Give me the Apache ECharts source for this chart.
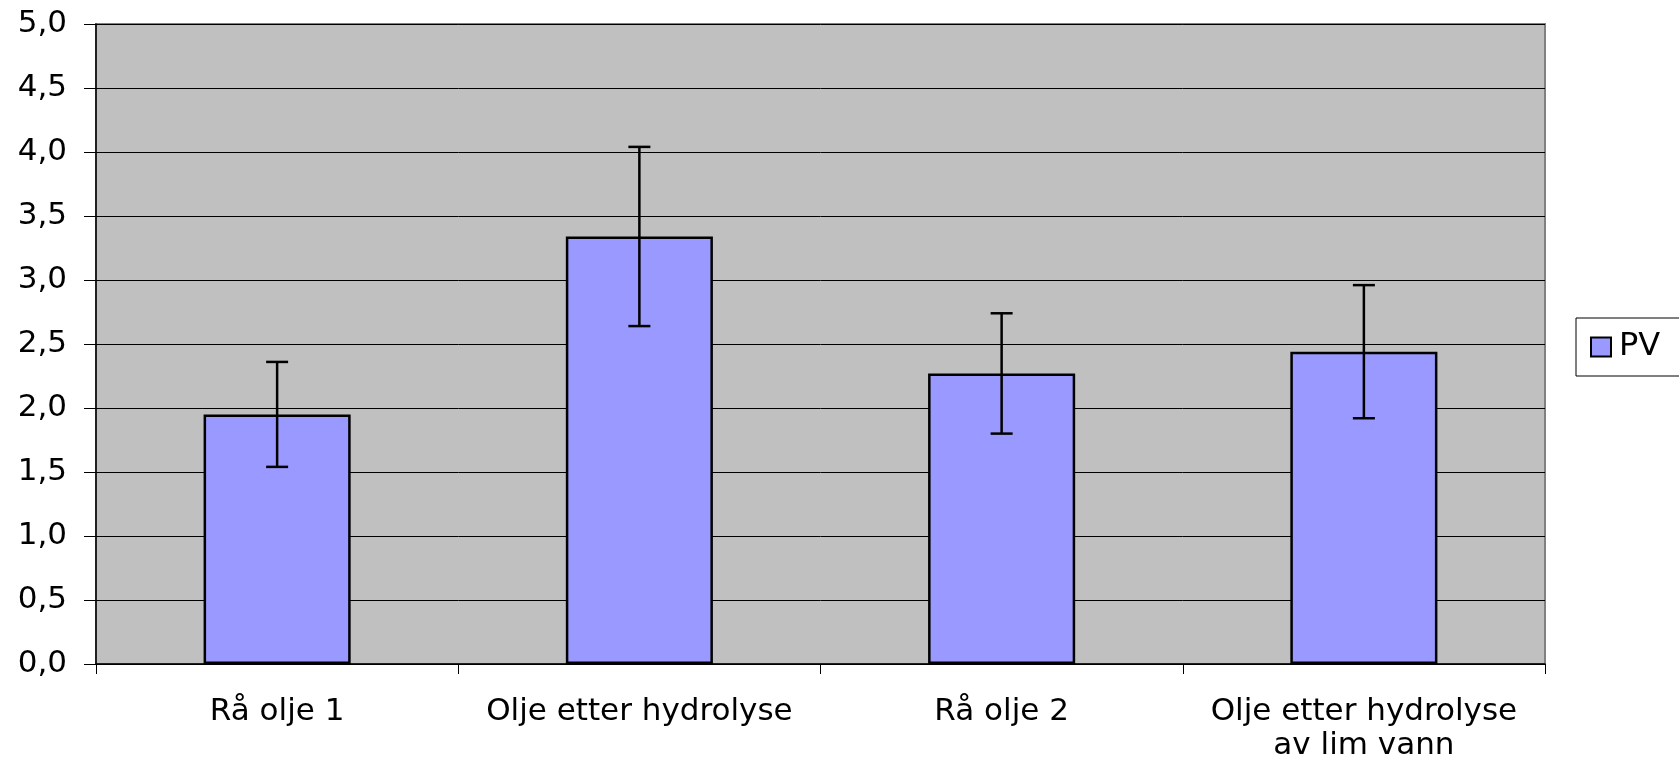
<!DOCTYPE html>
<html>
<head>
<meta charset="utf-8">
<script src="https://cdn.jsdelivr.net/npm/echarts@6/dist/echarts.min.js"></script>
<style>
html,body{margin:0;padding:0;background:#fff;}
#chart{width:1679px;height:764px;}
</style>
</head>
<body>
<div id="chart"></div>
<script>
// Data
const categories = ['Rå olje 1', 'Olje etter hydrolyse', 'Rå olje 2', 'Olje etter hydrolyse\nav lim vann'];
const seriesName = 'PV';
const pvValues = [1.95, 3.34, 2.27, 2.44];
const pvErrors = [0.41, 0.70, 0.47, 0.52];
const yTicks = { min: 0, max: 5, interval: 0.5 };

const FONT = 'DejaVu Sans';
const errorData = pvValues.map((v, i) => [i, v - pvErrors[i], v + pvErrors[i]]);

const chart = echarts.init(document.getElementById('chart'), null, { renderer: 'canvas' });
chart.setOption({
  animation: false,
  backgroundColor: '#ffffff',
  textStyle: { fontFamily: FONT },
  grid: {
    left: 96, top: 24, right: 134, bottom: 100,
    show: true, backgroundColor: '#C0C0C0', borderColor: '#808080', borderWidth: 2
  },
  legend: {
    data: [seriesName],
    left: 1576, top: 318,
    orient: 'vertical',
    backgroundColor: '#ffffff',
    borderColor: '#000000', borderWidth: 1,
    borderRadius: 0,
    padding: [13, 40, 13, 14],
    itemWidth: 20, itemHeight: 19, itemGap: 6,
    icon: 'rect',
    textStyle: { fontFamily: FONT, fontSize: 32, lineHeight: 25, color: '#000', padding: [0, 0, 0, 3] }
  },
  xAxis: {
    type: 'category',
    data: categories,
    boundaryGap: true,
    axisLine: { show: true, lineStyle: { color: '#000', width: 1.5 } },
    axisTick: { show: true, alignWithLabel: false, length: 10, lineStyle: { color: '#000', width: 1 } },
    axisLabel: { fontFamily: FONT, fontSize: 31, color: '#000', margin: 31, lineHeight: 34, interval: 0 },
    splitLine: { show: false }
  },
  yAxis: {
    type: 'value',
    min: yTicks.min, max: yTicks.max, interval: yTicks.interval,
    axisLine: { show: true, lineStyle: { color: '#000', width: 1.5 } },
    axisTick: { show: true, length: 12, lineStyle: { color: '#000', width: 1 } },
    axisLabel: {
      fontFamily: FONT, fontSize: 31, color: '#000', margin: 29,
      formatter: v => v.toFixed(1).replace('.', ',')
    },
    splitLine: { show: true, lineStyle: { color: '#000', width: 1 } }
  },
  series: [
    {
      name: seriesName,
      type: 'bar',
      data: pvValues,
      barWidth: '40.6%',
      itemStyle: { color: '#9999FF', borderColor: '#000', borderWidth: 2.5 },
      z: 2
    },
    {
      name: 'err',
      type: 'custom',
      data: errorData,
      z: 5,
      renderItem: function (params, api) {
        const x = api.value(0);
        const lo = api.coord([x, api.value(1)]);
        const hi = api.coord([x, api.value(2)]);
        const cap = 11;
        const style = { stroke: '#000', lineWidth: 2.5 };
        return {
          type: 'group',
          children: [
            { type: 'line', shape: { x1: lo[0], y1: lo[1], x2: hi[0], y2: hi[1] }, style: style },
            { type: 'line', shape: { x1: lo[0] - cap, y1: lo[1], x2: lo[0] + cap, y2: lo[1] }, style: style },
            { type: 'line', shape: { x1: hi[0] - cap, y1: hi[1], x2: hi[0] + cap, y2: hi[1] }, style: style }
          ]
        };
      }
    }
  ]
});
</script>
</body>
</html>
